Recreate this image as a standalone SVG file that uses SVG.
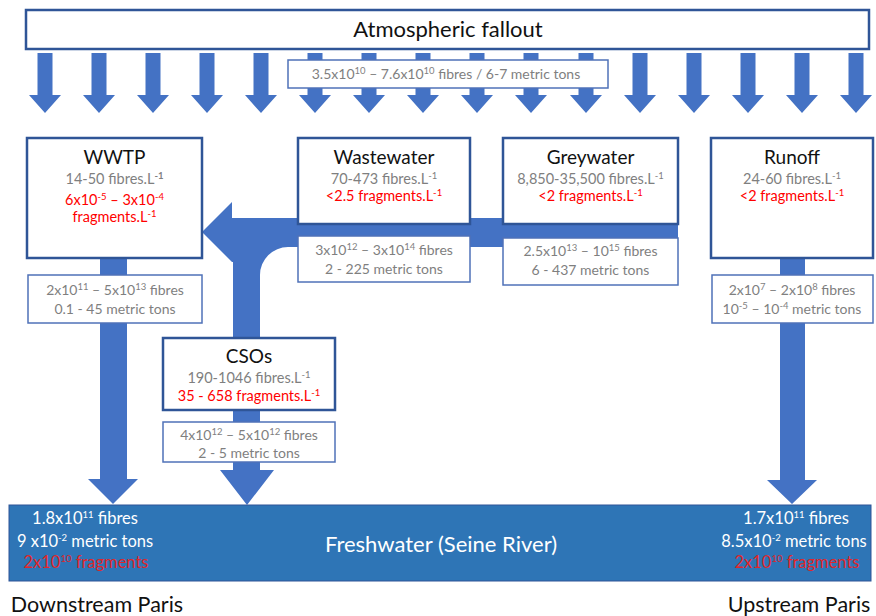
<svg xmlns="http://www.w3.org/2000/svg" width="876" height="616" viewBox="0 0 876 616">
<defs>
<style>
text{font-family:Lato,"Liberation Sans",sans-serif;text-anchor:middle}
.node{fill:#fff;stroke:#2F5597;stroke-width:2.5}
.lbl{fill:#fff;stroke:#4F72B8;stroke-width:1.5}
.arr{fill:#4472C4}
.title{font-size:19px;fill:#111}
.gray{font-size:14.5px;fill:#7F7F7F}
.red{font-size:14.5px;fill:#FF0000}
.lt{font-size:14px;fill:#7F7F7F}
.wt{font-size:16.5px;fill:#fff}
.rr{font-size:16.5px;fill:#E0262A}
.s{font-size:9.5px}
</style>
<g id="fallarrow"><polygon class="arr" points="-7.5,53 7.5,53 7.5,95 16,95 0,113 -16,95 -7.5,95"/></g>
</defs>

<g id="atmospheric-fallout">
<rect class="node" x="26" y="10" width="843" height="39"/>
<text x="448" y="37" style="font-size:22px;fill:#111">Atmospheric fallout</text>
</g>

<g id="connectors">
<use href="#fallarrow" x="45"/><use href="#fallarrow" x="99"/><use href="#fallarrow" x="153"/><use href="#fallarrow" x="207"/>
<use href="#fallarrow" x="261"/><use href="#fallarrow" x="315"/><use href="#fallarrow" x="369"/><use href="#fallarrow" x="423"/>
<use href="#fallarrow" x="477"/><use href="#fallarrow" x="531"/><use href="#fallarrow" x="586"/><use href="#fallarrow" x="640"/>
<use href="#fallarrow" x="694"/><use href="#fallarrow" x="748"/><use href="#fallarrow" x="802"/><use href="#fallarrow" x="856"/>
<!-- horizontal flow to WWTP with branch from CSOs -->
<path class="arr" d="M232,218 H678 V247 H288 A28,28 0 0 0 260,275 V340 H233 V262 H232 Z"/>
<polygon class="arr" points="202,232 232,202 232,262"/>
<!-- WWTP to river -->
<polygon class="arr" points="100,256 127,256 127,479 138,479 113,504 88,479 100,479"/>
<!-- Runoff to river -->
<polygon class="arr" points="780,256 805,256 805,480 817,480 792,504 767,480 780,480"/>
<!-- CSOs to river -->
<polygon class="arr" points="233,408 260,408 260,470 274,470 247,505 220,470 233,470"/>
</g>

<g id="fallout-label">
<rect class="lbl" x="288" y="60" width="320" height="28"/>
<text x="446" y="79" style="font-size:14px;fill:#7F7F7F">3.5x10<tspan class="s" dy="-5">10</tspan><tspan dy="5"> – 7.6x10</tspan><tspan class="s" dy="-5">10</tspan><tspan dy="5"> fibres / 6-7 metric tons</tspan></text>
</g>

<g id="wwtp">
<rect class="node" x="27" y="138" width="175" height="120"/>
<text class="title" x="114.5" y="164">WWTP</text>
<text class="gray" x="114.5" y="184">14-50 fibres.L<tspan class="s" dy="-5" font-weight="bold">-1</tspan></text>
<text class="red" x="114.5" y="205">6x10<tspan class="s" dy="-5">-5</tspan><tspan dy="5"> – 3x10</tspan><tspan class="s" dy="-5">-4</tspan></text>
<text class="red" x="114.5" y="222">fragments.L<tspan class="s" dy="-5">-1</tspan></text>
</g>
<g id="wwtp-label">
<rect class="lbl" x="28" y="275" width="174" height="48"/>
<text class="lt" x="115" y="295">2x10<tspan class="s" dy="-5">11</tspan><tspan dy="5"> – 5x10</tspan><tspan class="s" dy="-5">13</tspan><tspan dy="5"> fibres</tspan></text>
<text class="lt" x="115" y="314">0.1 - 45 metric tons</text>
</g>

<g id="wastewater">
<rect class="node" x="298" y="138" width="172" height="86"/>
<text class="title" x="384" y="164">Wastewater</text>
<text class="gray" x="384" y="184">70-473 fibres.L<tspan class="s" dy="-5">-1</tspan></text>
<text class="red" x="384" y="201">&lt;2.5 fragments.L<tspan class="s" dy="-5">-1</tspan></text>
</g>
<g id="wastewater-label">
<rect class="lbl" x="298" y="236" width="172" height="46"/>
<text class="lt" x="384" y="255">3x10<tspan class="s" dy="-5">12</tspan><tspan dy="5"> – 3x10</tspan><tspan class="s" dy="-5">14</tspan><tspan dy="5"> fibres</tspan></text>
<text class="lt" x="384" y="274">2 - 225 metric tons</text>
</g>

<g id="greywater">
<rect class="node" x="503" y="138" width="175" height="86"/>
<text class="title" x="590.5" y="164">Greywater</text>
<text class="gray" x="590.5" y="184">8,850-35,500 fibres.L<tspan class="s" dy="-5">-1</tspan></text>
<text class="red" x="590.5" y="201">&lt;2 fragments.L<tspan class="s" dy="-5">-1</tspan></text>
</g>
<g id="greywater-label">
<rect class="lbl" x="503" y="238" width="175" height="47"/>
<text class="lt" x="590.5" y="256">2.5x10<tspan class="s" dy="-5">13</tspan><tspan dy="5"> – 10</tspan><tspan class="s" dy="-5">15</tspan><tspan dy="5"> fibres</tspan></text>
<text class="lt" x="590.5" y="275">6 - 437 metric tons</text>
</g>

<g id="runoff">
<rect class="node" x="711" y="138" width="162" height="120"/>
<text class="title" x="792" y="164">Runoff</text>
<text class="gray" x="792" y="184">24-60 fibres.L<tspan class="s" dy="-5">-1</tspan></text>
<text class="red" x="792" y="201">&lt;2 fragments.L<tspan class="s" dy="-5">-1</tspan></text>
</g>
<g id="runoff-label">
<rect class="lbl" x="712" y="275" width="161" height="48"/>
<text class="lt" x="792" y="295">2x10<tspan class="s" dy="-5">7</tspan><tspan dy="5"> – 2x10</tspan><tspan class="s" dy="-5">8</tspan><tspan dy="5"> fibres</tspan></text>
<text class="lt" x="792" y="314">10<tspan class="s" dy="-5">-5</tspan><tspan dy="5"> – 10</tspan><tspan class="s" dy="-5">-4</tspan><tspan dy="5"> metric tons</tspan></text>
</g>

<g id="csos">
<rect class="node" x="163" y="338" width="172" height="72"/>
<text class="title" x="249" y="363">CSOs</text>
<text class="gray" x="249" y="383">190-1046 fibres.L<tspan class="s" dy="-5">-1</tspan></text>
<text class="red" x="249" y="401">35 - 658 fragments.L<tspan class="s" dy="-5">-1</tspan></text>
</g>
<g id="csos-label">
<rect class="lbl" x="163" y="422" width="172" height="40"/>
<text class="lt" x="249" y="440">4x10<tspan class="s" dy="-5">12</tspan><tspan dy="5"> – 5x10</tspan><tspan class="s" dy="-5">12</tspan><tspan dy="5"> fibres</tspan></text>
<text class="lt" x="249" y="458">2 - 5 metric tons</text>
</g>

<g id="freshwater">
<rect x="9" y="505" width="862" height="76" fill="#2E75B6" stroke="#2F5597" stroke-width="1"/>
<text x="441" y="552" style="font-size:22px;fill:#fff">Freshwater (Seine River)</text>
<text class="wt" x="85" y="524">1.8x10<tspan class="s" dy="-6">11</tspan><tspan dy="6"> fibres</tspan></text>
<text class="wt" x="85" y="547">9 x10<tspan class="s" dy="-6">-2</tspan><tspan dy="6"> metric tons</tspan></text>
<text class="rr" x="86" y="568">2x10<tspan class="s" dy="-6">10</tspan><tspan dy="6"> fragments</tspan></text>
<text class="wt" x="796" y="524">1.7x10<tspan class="s" dy="-6">11</tspan><tspan dy="6"> fibres</tspan></text>
<text class="wt" x="794" y="547">8.5x10<tspan class="s" dy="-6">-2</tspan><tspan dy="6">  metric tons</tspan></text>
<text class="rr" x="797" y="568">2x10<tspan class="s" dy="-6">10</tspan><tspan dy="6"> fragments</tspan></text>
</g>

<g id="downstream-label"><text x="97" y="612" style="font-size:21.5px;fill:#111">Downstream Paris</text></g>
<g id="upstream-label"><text x="799" y="612" style="font-size:21.5px;fill:#111">Upstream Paris</text></g>
</svg>
